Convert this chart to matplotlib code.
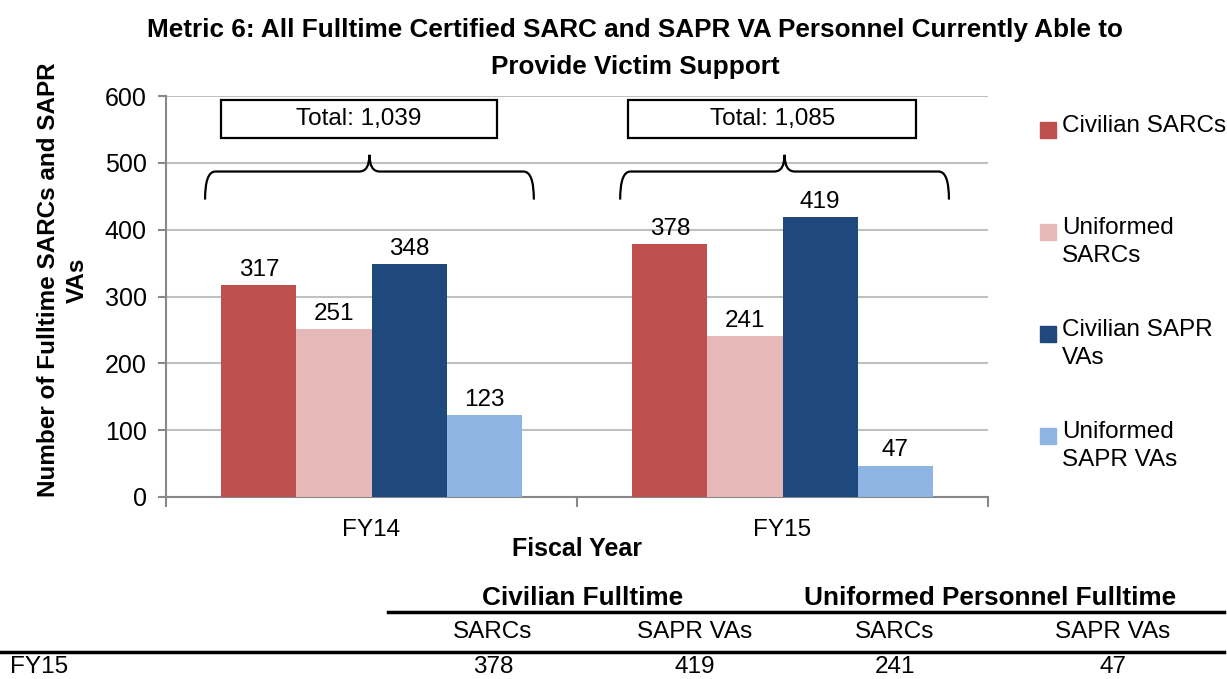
import matplotlib
matplotlib.use("Agg")
import matplotlib.pyplot as plt
from matplotlib.patches import Rectangle, PathPatch
from matplotlib.path import Path
from matplotlib.lines import Line2D
import numpy as np


# =====================================================
# DATA
# =====================================================

years = ["FY14", "FY15"]
series_names = [
    "Civilian SARCs",
    "Uniformed\nSARCs",
    "Civilian SAPR\nVAs",
    "Uniformed\nSAPR VAs",
]
civilian_sarcs = [317, 378]
uniformed_sarcs = [251, 241]
civilian_vas = [348, 419]
uniformed_vas = [123, 47]
totals = ["Total: 1,039", "Total: 1,085"]

title_lines = [
    "Metric 6: All Fulltime Certified SARC and SAPR VA Personnel Currently Able to",
    "Provide Victim Support",
]

table_groups = ["Civilian Fulltime", "Uniformed Personnel Fulltime"]
table_columns = ["SARCs", "SAPR VAs", "SARCs", "SAPR VAs"]
table_row_label = "FY15"
table_values = ["378", "419", "241", "47"]

colors = ["#C0504D", "#E6B9B8", "#1F497D", "#8EB4E3"]


# =====================================================
# FONTS
# =====================================================

plt.rcParams["font.family"] = ["Liberation Sans", "DejaVu Sans"]

FS = 17.5        # regular text
FS_BOLD = 18.8   # bold title / table headers
W, H = 1227, 679


def fx(px):
    return px / W


def fy(py):
    return 1 - py / H


# =====================================================
# FIGURE
# =====================================================

fig = plt.figure(figsize=(W / 100, H / 100), dpi=100)
ax = fig.add_axes([fx(166), fy(497), fx(988) - fx(166), fy(96) - fy(497)])

values = [civilian_sarcs, uniformed_sarcs, civilian_vas, uniformed_vas]
x = np.arange(len(years))
width = 0.1825

for i, vals in enumerate(values):
    pos = x + (i - 1.5) * width
    bars = ax.bar(pos, vals, width=width, color=colors[i], zorder=3)
    for b, v in zip(bars, vals):
        ax.annotate(
            str(v),
            (b.get_x() + b.get_width() / 2, v),
            xytext=(0, 3),
            textcoords="offset points",
            ha="center",
            va="bottom",
            fontsize=FS,
        )

ax.set_ylim(0, 600)
ax.set_xlim(-0.5, 1.5)
ax.set_yticks(range(0, 601, 100))
ax.yaxis.grid(True, color="#c0c0c0", linewidth=1.5, zorder=0)
ax.set_axisbelow(True)

for side in ["top", "right"]:
    ax.spines[side].set_visible(False)
for side in ["left", "bottom"]:
    ax.spines[side].set_color("#888888")
    ax.spines[side].set_linewidth(1.5)

ax.tick_params(axis="y", colors="#888888", length=6, width=1.5,
               labelsize=FS + 0.5, labelcolor="black", pad=8)
ax.set_xticks(x)
ax.set_xticklabels(years)
ax.tick_params(axis="x", length=0, labelsize=FS, pad=16)
ax.set_xticks([-0.5, 0.5, 1.5], minor=True)
ax.tick_params(axis="x", which="minor", length=7, width=1.5, colors="#888888")

ax.set_xlabel("Fiscal Year", fontsize=18, fontweight="bold", labelpad=-3)


# =====================================================
# BRACES AND TOTAL BOXES
# =====================================================

def brace(xc, half, y_end=445, y_h=487, y_tip=512, dx=0.025):
    x0, x1 = xc - half, xc + half
    verts = [
        (x0, y_end), (x0, y_h), (x0 + dx, y_h),
        (xc - dx, y_h), (xc, y_h), (xc, y_tip),
        (xc, y_h), (xc + dx, y_h),
        (x1 - dx, y_h), (x1, y_h), (x1, y_end),
    ]
    codes = [
        Path.MOVETO, Path.CURVE3, Path.CURVE3,
        Path.LINETO, Path.CURVE3, Path.CURVE3,
        Path.CURVE3, Path.CURVE3,
        Path.LINETO, Path.CURVE3, Path.CURVE3,
    ]
    ax.add_patch(PathPatch(Path(verts, codes), fill=False, lw=1.6,
                           color="black", zorder=4, clip_on=False))


for i, label in enumerate(totals):
    brace(x[i] - 0.005 + 0.01 * i, 0.4)
    bx = x[i] - 0.03 + 0.005 * i
    bw = 0.67 + 0.03 * i
    ax.add_patch(Rectangle((bx - bw / 2, 537), bw, 57, facecolor="white",
                           edgecolor="black", lw=1.6, zorder=5, clip_on=False))
    ax.text(bx, 565.5, label, ha="center", va="center", fontsize=FS, zorder=6)


# =====================================================
# TITLE, Y LABEL
# =====================================================

fig.text(fx(635), fy(30), title_lines[0], ha="center", va="center",
         fontsize=FS_BOLD, fontweight="bold")
fig.text(fx(635), fy(67), title_lines[1], ha="center", va="center",
         fontsize=FS_BOLD, fontweight="bold")

fig.text(fx(63), fy(280), "Number of Fulltime SARCs and SAPR\nVAs",
         ha="center", va="center", rotation=90, fontsize=FS,
         fontweight="bold", multialignment="center", linespacing=1.3)


# =====================================================
# LEGEND (manual, Excel style)
# =====================================================

for i, name in enumerate(series_names):
    yc = 130 + i * 102
    fig.patches.append(Rectangle((fx(1040), fy(yc + 8)), fx(16), 16 / H,
                                 transform=fig.transFigure, color=colors[i]))
    fig.text(fx(1062), fy(yc - 15), name, ha="left", va="top",
             fontsize=FS, linespacing=1.35)


# =====================================================
# TABLE
# =====================================================

col_x = [493, 695, 895, 1113]
group_x = [583, 990]

for gx, g in zip(group_x, table_groups):
    fig.text(fx(gx), fy(598), g, ha="center", va="center",
             fontsize=FS_BOLD, fontweight="bold")

for cx, c in zip(col_x, table_columns):
    fig.text(fx(cx), fy(632), c, ha="center", va="center", fontsize=FS)

fig.text(fx(10), fy(667), table_row_label, ha="left", va="center", fontsize=FS)
for cx, v in zip(col_x, table_values):
    fig.text(fx(cx), fy(667), v, ha="center", va="center", fontsize=FS)

fig.lines.append(Line2D([fx(388), fx(1224)], [fy(612), fy(612)],
                        transform=fig.transFigure, color="black", lw=2.5))
fig.lines.append(Line2D([0, fx(1224)], [fy(652), fy(652)],
                        transform=fig.transFigure, color="black", lw=2.5))

fig.savefig("out.png", dpi=100)
